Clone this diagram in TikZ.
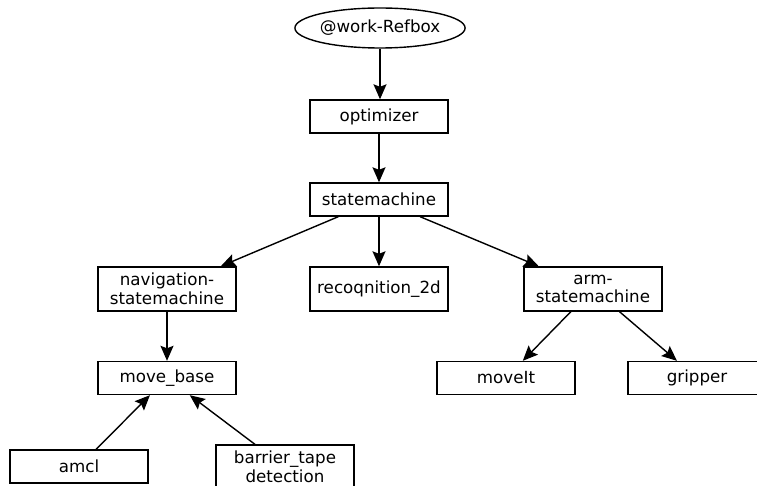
\documentclass[tikz,border=0pt]{standalone}
\usepackage{fontspec}
\setmainfont{DejaVu Sans}
\usetikzlibrary{arrows.meta,shapes.geometric}
\begin{document}
\begin{tikzpicture}[x=1bp,y=-1bp,
  every node/.style={font=\fontsize{16.7bp}{18.5bp}\selectfont, inner sep=0pt, line width=1.4bp},
  box/.style={draw, rectangle, minimum width=138bp, minimum height=33bp, align=center},
  tallbox/.style={box, minimum height=44bp},
  oval/.style={draw, ellipse, minimum width=153bp, minimum height=40bp},
  edge/.style={line width=1.4bp, -{Stealth[length=15bp,width=13bp,inset=2.5bp]}}]
\useasboundingbox[fill=white] (0,0) rectangle (757,486);
\node[oval] (refbox) at (380,28) {@work-Refbox};
\node[box] (opt) at (379,116.5) {optimizer};
\node[box] (sm) at (379,199.5) {statemachine};
\node[tallbox] (nav) at (167,289) {navigation-\\statemachine};
\node[tallbox] (rec) at (379,289) {recoqnition\_2d};
\node[tallbox] (arm) at (593,289) {arm-\\statemachine};
\node[box] (mb) at (167,378) {move\_base};
\node[box] (moveit) at (506,378) {moveIt};
\node[box] (grip) at (697,378) {gripper};
\node[box] (amcl) at (79,466.5) {amcl};
\node[tallbox] (barrier) at (285,467) {barrier\_tape\\detection};
\draw[edge] (refbox) -- (refbox |- opt.north);
\draw[edge] (opt) -- (sm);
\draw[edge] (sm) -- (nav);
\draw[edge] (sm) -- (rec);
\draw[edge] (sm) -- (arm);
\draw[edge] (nav) -- (mb);
\draw[edge] (arm) -- (moveit);
\draw[edge] (arm) -- (grip);
\draw[edge] (amcl) -- (mb);
\draw[edge] (barrier) -- (mb);
\end{tikzpicture}
\end{document}
